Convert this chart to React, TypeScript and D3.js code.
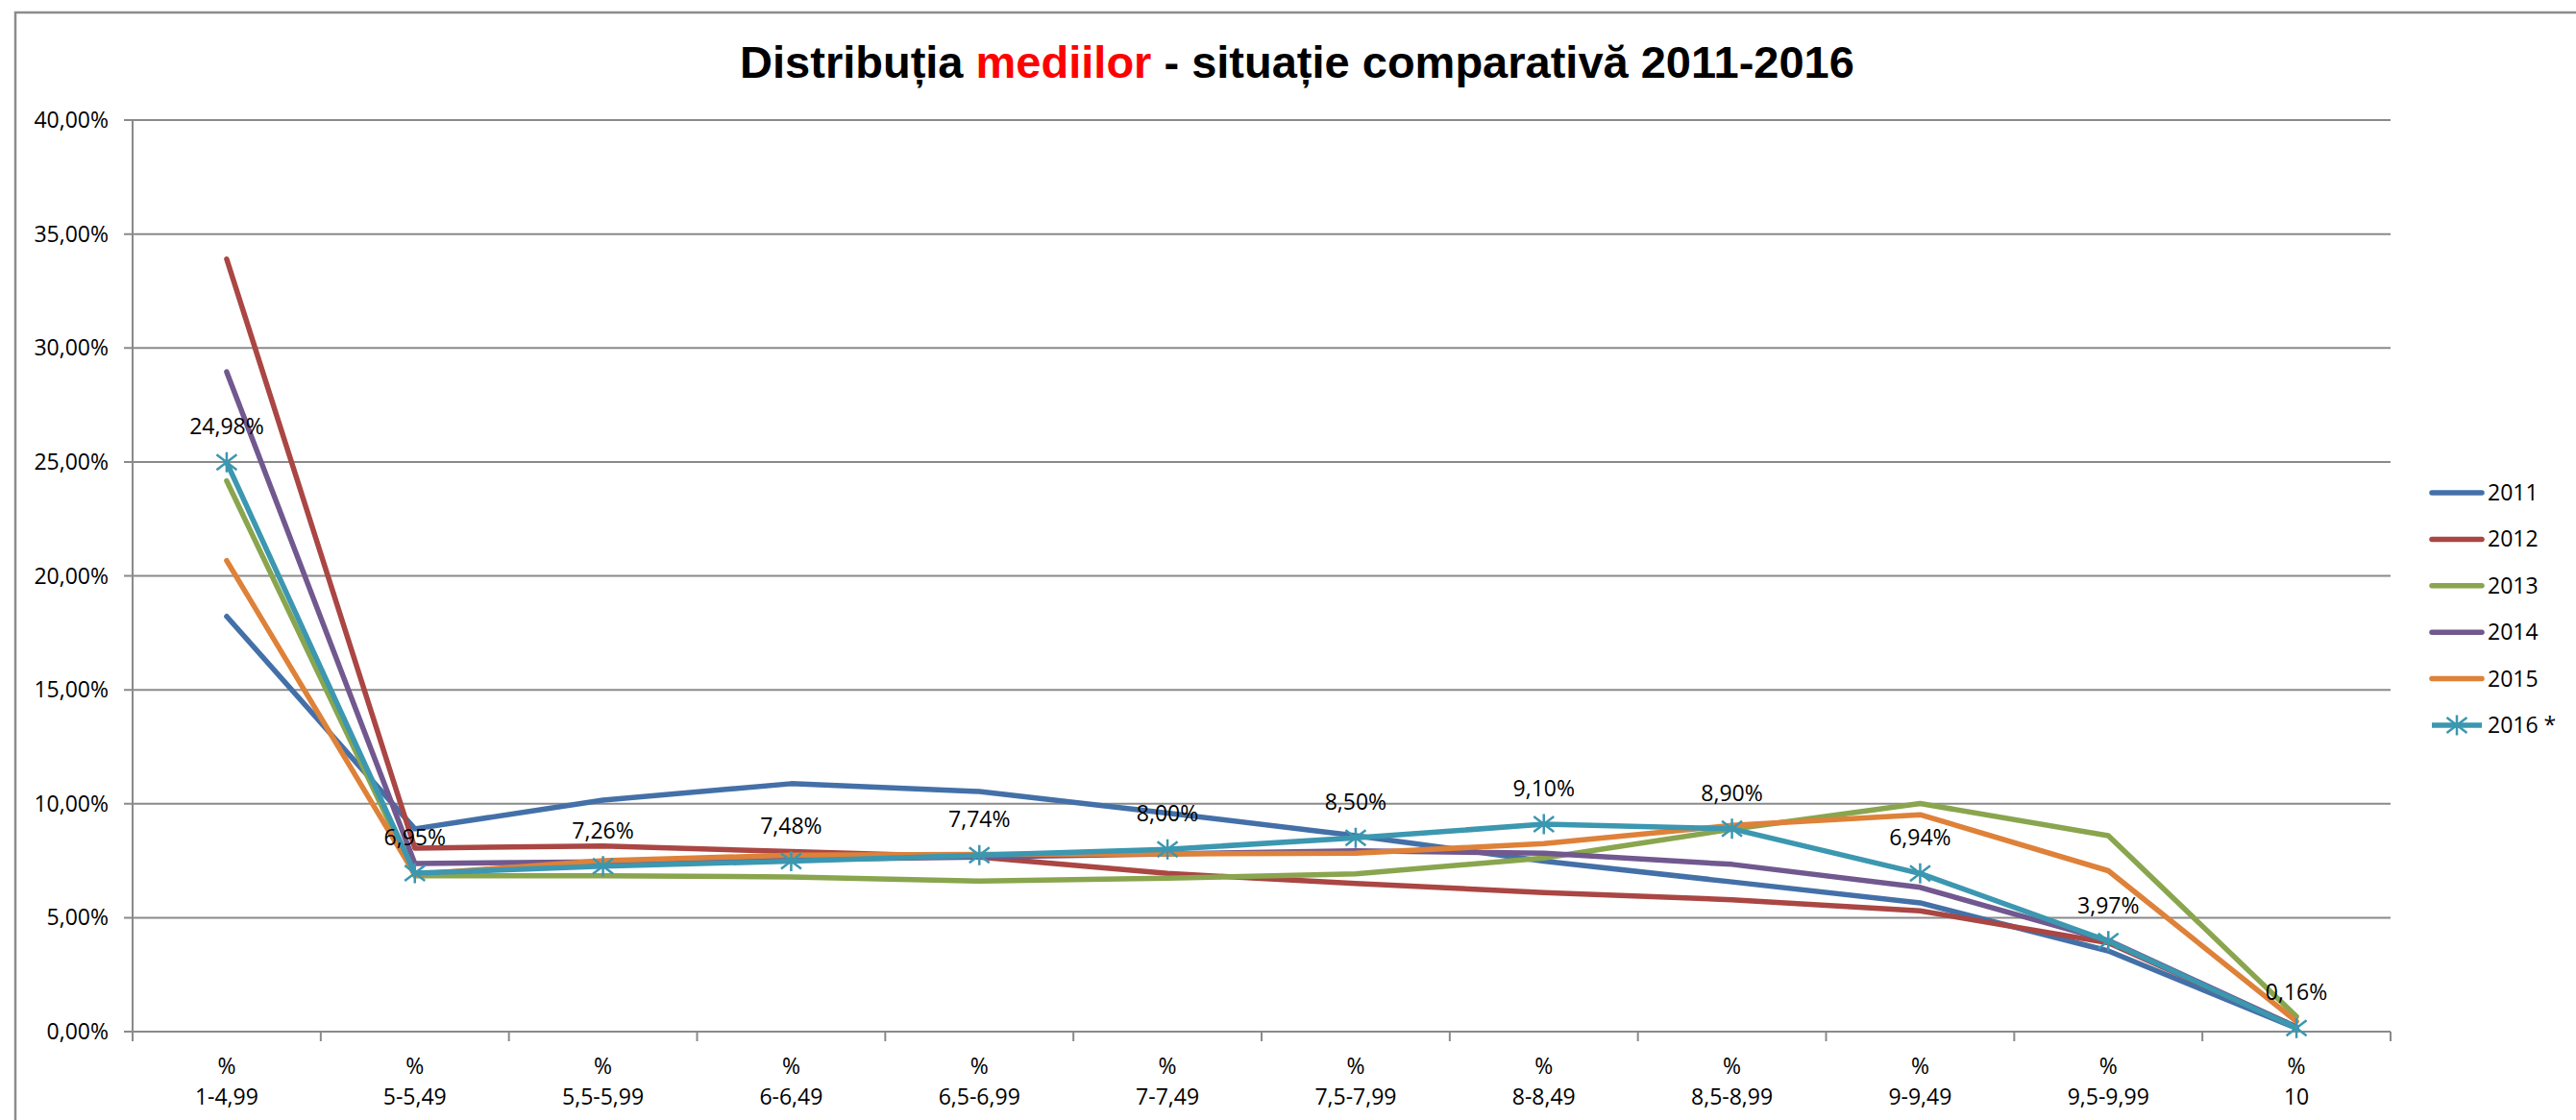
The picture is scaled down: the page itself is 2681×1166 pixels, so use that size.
import React, { useRef, useEffect } from 'react';
import * as d3 from 'd3';

const categories = ['1-4,99', '5-5,49', '5,5-5,99', '6-6,49', '6,5-6,99', '7-7,49', '7,5-7,99', '8-8,49', '8,5-8,99', '9-9,49', '9,5-9,99', '10'];

const years = ['2011', '2012', '2013', '2014', '2015', '2016 *'];

const values2011 = [18.22, 8.9, 10.16, 10.88, 10.54, 9.59, 8.6, 7.48, 6.57, 5.65, 3.54, 0.15];
const values2012 = [33.9, 8.05, 8.15, 7.9, 7.66, 6.94, 6.5, 6.1, 5.79, 5.3, 3.9, 0.2];
const values2013 = [24.17, 6.84, 6.84, 6.79, 6.61, 6.73, 6.92, 7.62, 8.88, 10.01, 8.6, 0.66];
const values2014 = [28.95, 7.38, 7.45, 7.55, 7.66, 7.8, 7.93, 7.83, 7.34, 6.33, 4.0, 0.2];
const values2015 = [20.67, 6.9, 7.5, 7.74, 7.78, 7.8, 7.83, 8.25, 9.05, 9.52, 7.06, 0.45];
const values2016 = [24.98, 6.95, 7.26, 7.48, 7.74, 8.0, 8.5, 9.1, 8.9, 6.94, 3.97, 0.16];

const yTicks = [0, 5, 10, 15, 20, 25, 30, 35, 40];

const colors = ['#4470A8', '#AA4643', '#89A54E', '#71588F', '#DE8139', '#3C97B0'];

const W = 2681;
const H = 1166;

const App = () => {
  const svgRef = useRef(null);

  useEffect(() => {
    const svg = d3.select(svgRef.current);
    svg.selectAll('*').remove();

    const series = [values2011, values2012, values2013, values2014, values2015, values2016];
    const locale = d3.formatLocale({ decimal: ',', thousands: '.', grouping: [3], currency: ['', ''] });
    const fmt = locale.format('.2f');
    const labelFont = '"Open Sans", sans-serif';

    const margin = { top: 125, right: 193, bottom: 92, left: 138 };
    const x = d3.scaleBand().domain(categories).range([margin.left, W - margin.right]).padding(0);
    const y = d3.scaleLinear().domain([0, 40]).range([H - margin.bottom, margin.top]);
    const cx = (c) => x(c) + x.bandwidth() / 2;

    // chart frame
    svg.append('rect')
      .attr('x', 16).attr('y', 13)
      .attr('width', W + 20).attr('height', H + 20)
      .attr('fill', '#fff').attr('stroke', '#8c8c8c').attr('stroke-width', 2.5);

    // title
    const title = svg.append('text')
      .attr('x', 1350).attr('y', 81)
      .attr('text-anchor', 'middle')
      .attr('font-family', '"Liberation Sans", Arial, sans-serif')
      .attr('font-weight', 'bold')
      .attr('font-size', 47)
      .attr('fill', '#000');
    title.append('tspan').text('Distribuția ');
    title.append('tspan').attr('fill', '#ff0000').text('mediilor');
    title.append('tspan').text(' - situație comparativă 2011-2016');

    // gridlines + y labels
    const x0 = margin.left;
    const x1 = W - margin.right;
    yTicks.forEach(t => {
      svg.append('line')
        .attr('x1', x0 - 9).attr('x2', x1)
        .attr('y1', y(t)).attr('y2', y(t))
        .attr('stroke', '#8a8a8a').attr('stroke-width', 2);
      svg.append('text')
        .attr('x', 113).attr('y', y(t))
        .attr('dy', '0.35em')
        .attr('text-anchor', 'end')
        .attr('font-family', labelFont)
        .attr('font-size', 23)
        .attr('fill', '#000')
        .text(fmt(t) + '%');
    });

    // y axis line
    svg.append('line')
      .attr('x1', x0).attr('x2', x0)
      .attr('y1', y(40)).attr('y2', y(0))
      .attr('stroke', '#8a8a8a').attr('stroke-width', 2);

    // x axis ticks
    const bounds = categories.map(c => x(c)).concat([x1]);
    bounds.forEach(b => {
      svg.append('line')
        .attr('x1', b).attr('x2', b)
        .attr('y1', y(0)).attr('y2', y(0) + 10)
        .attr('stroke', '#8a8a8a').attr('stroke-width', 2);
    });

    // x labels
    categories.forEach(c => {
      svg.append('text')
        .attr('x', cx(c)).attr('y', 1118)
        .attr('text-anchor', 'middle')
        .attr('font-family', labelFont).attr('font-size', 23)
        .text('%');
      svg.append('text')
        .attr('x', cx(c)).attr('y', 1150)
        .attr('text-anchor', 'middle')
        .attr('font-family', labelFont).attr('font-size', 23)
        .text(c);
    });

    // lines
    const line = d3.line()
      .x((d, i) => cx(categories[i]))
      .y(d => y(d));

    series.forEach((s, i) => {
      svg.append('path')
        .datum(s)
        .attr('d', line)
        .attr('fill', 'none')
        .attr('stroke', colors[i])
        .attr('stroke-width', 5.5)
        .attr('stroke-linejoin', 'round')
        .attr('stroke-linecap', 'round');
    });

    // star markers for 2016
    const star = (g, px, py, col) => {
      const sx = 10.5, sy = 8, sv = 10.5;
      g.append('path')
        .attr('d', `M${px - sx},${py - sy}L${px + sx},${py + sy}M${px - sx},${py + sy}L${px + sx},${py - sy}M${px},${py - sv}L${px},${py + sv}`)
        .attr('stroke', col).attr('stroke-width', 2.5).attr('fill', 'none');
    };
    values2016.forEach((v, i) => {
      star(svg, cx(categories[i]), y(v), colors[5]);
    });

    // data labels 2016
    values2016.forEach((v, i) => {
      svg.append('text')
        .attr('x', cx(categories[i])).attr('y', y(v) - 29)
        .attr('text-anchor', 'middle')
        .attr('font-family', labelFont).attr('font-size', 23)
        .attr('fill', '#000')
        .text(fmt(v) + '%');
    });

    // legend
    years.forEach((yr, i) => {
      const ly = 513 + i * 48.4;
      svg.append('line')
        .attr('x1', 2531).attr('x2', 2583)
        .attr('y1', ly).attr('y2', ly)
        .attr('stroke', colors[i]).attr('stroke-width', 5.5)
        .attr('stroke-linecap', i === 5 ? 'butt' : 'round');
      if (i === 5) star(svg, 2557, ly, colors[5]);
      svg.append('text')
        .attr('x', 2589).attr('y', ly)
        .attr('dy', '0.35em')
        .attr('font-family', labelFont).attr('font-size', 23)
        .attr('fill', '#000')
        .text(yr);
    });
  }, []);

  return (
    <div style={{ position: 'absolute', left: 0, top: 0 }}>
      <svg ref={svgRef} width={W} height={H} style={{ display: 'block', background: '#fff' }}></svg>
    </div>
  );
};

export default App;
